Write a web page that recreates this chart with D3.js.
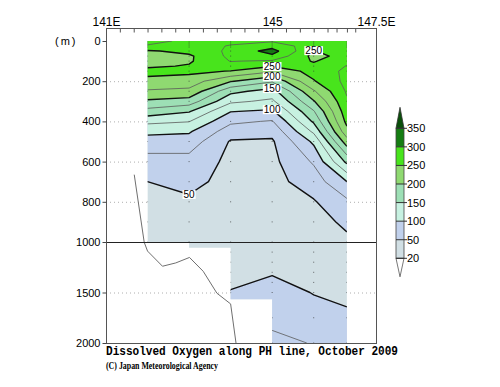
<!DOCTYPE html>
<html>
<head>
<meta charset="utf-8">
<script src="https://cdn.jsdelivr.net/npm/d3@7"></script>
<style>
body { margin: 0; background: #fff; }
svg { display: block; }
</style>
</head>
<body>
<svg id="chart" width="500" height="387"></svg>
<script>
// stations along the PH line (deg E) and sample depths (m)
var stations = [142, 143, 144, 145, 146, 146.8]
var depths = [0, 25, 50, 75, 100, 125, 150, 200, 250, 300, 350, 400, 450, 500, 600, 700, 800, 900, 1000, 1250, 1500, 1750, 2000]
var bottomDepth = [1000, 1057, 1567, 2000, 2000, 2000]

// dissolved oxygen (umol/kg) at each depth, one list per station
var oxy142 = [285, 272, 247, 238, 237, 246, 258, 243, 222, 196, 166, 131, 107, 88, 66, 50, 44, 39, 35, 34, 33, 33, 33]
var oxy143 = [268, 262, 257, 246, 247, 252, 256, 238, 219, 189, 152, 126, 103, 88, 66, 57, 46, 41, 38, 36, 35, 35, 35]
var oxy144 = [268, 277, 280, 281, 276, 265, 249, 202, 157, 130, 101, 80, 62, 48, 44, 42, 40, 38, 37, 42, 51, 55, 58]
var oxy145 = [272, 290, 310, 295, 272, 252, 229, 178, 140, 120, 96, 73, 57, 47, 44, 42, 40, 39, 38, 45, 60, 70, 80]
var oxy146 = [268, 262, 249, 243, 248, 256, 260, 248, 222, 198, 173, 154, 130, 105, 78, 62, 48, 44, 42, 42, 49, 60, 74]
var oxy1468 = [265, 262, 260, 258, 268, 276, 280, 282, 278, 272, 265, 257, 242, 214, 156, 100, 70, 53, 47, 40, 46, 53, 65]
var profiles = [oxy142, oxy143, oxy144, oxy145, oxy146, oxy1468]

// bottom topography (deg E, m)
var topoLon = [141.68, 141.92, 142.0, 142.36, 142.68, 143.01, 143.34, 143.67, 144.0, 144.13]
var topoDepth = [665, 1003, 1090, 1240, 1207, 1153, 1290, 1507, 1613, 2000]

var fillLevels = [20, 50, 100, 150, 200, 250, 300, 350]
var fillColors = ["#d1dfe4", "#c1d1ec", "#c7f1e1", "#9ddfb5", "#8fd971", "#48e41c", "#157d12", "#0a4f0a"]
var thickLevels = [50, 100, 150, 200, 250, 300]
var thinLevels = [75, 125, 175, 225, 275]

var yTicks = [0, 200, 400, 600, 800, 1000, 1500, 2000]
var gridDepths = [200, 400, 600, 800, 1500]
var lonMinor = [141, 141.333, 141.667, 142, 142.333, 142.667, 143, 143.333, 143.667, 144, 144.333, 144.667,
    145, 145.333, 145.667, 146, 146.333, 146.55, 146.8, 147]
var lonLabels = [141, 145, 147.5]
var sampleDepths = [0, 10, 20, 30, 50, 75, 100, 125, 150, 200, 250, 300, 400, 500, 600, 700, 800, 900, 1000, 1100, 1200, 1300, 1400, 1500, 1750, 2000]

var contourLabels = [
    { st: 3, level: 250 }, { st: 3, level: 200 }, { st: 3, level: 150 },
    { st: 3, level: 100 }, { st: 1, level: 50 }, { st: 4, level: 250 }
]

var svg = d3.select("#chart")
var font = "'Liberation Sans', Arial, sans-serif"

var x = d3.scaleLinear().domain([141, 147.5]).range([106, 376])
var y = d3.scaleLinear().domain([0, 1000, 2000]).range([41, 242, 343])
var frameTop = 28

var n = stations.length
var m = depths.length
var xIdx = d3.scaleLinear().domain(d3.range(n)).range(stations)
var yIdx = d3.scaleLinear().domain(d3.range(m)).range(depths)

function clampIdx(c, k) {
    return Math.max(0, Math.min(k - 1, c - 0.5))
}
function px(c) { return x(xIdx(clampIdx(c, n))) }
function py(c) { return y(yIdx(clampIdx(c, m))) }

var values = []
depths.forEach(function(d, j) {
    stations.forEach(function(s, i) {
        values[j * n + i] = profiles[i][j]
    })
})

// data mask: stepped bottom between stations
var maskPts = [[x(stations[0]), y(0)], [x(stations[n - 1]), y(0)]]
for (var i = n - 2; i >= 0; i--) {
    var segD = Math.min(bottomDepth[i], bottomDepth[i + 1])
    maskPts.push([x(stations[i + 1]), y(segD)])
    maskPts.push([x(stations[i]), y(segD)])
}

var defs = svg.append("defs")
defs.append("clipPath").attr("id", "dataClip")
    .append("path").attr("d", d3.line()(maskPts) + "Z")
defs.append("clipPath").attr("id", "frameClip")
    .append("rect").attr("x", 106).attr("y", frameTop).attr("width", 270).attr("height", 343 - frameTop)

// grid lines (dotted)
svg.append("g").selectAll("line").data(gridDepths).enter().append("line")
    .attr("x1", 106).attr("x2", 376)
    .attr("y1", function(d) { return y(d) + 0.5 }).attr("y2", function(d) { return y(d) + 0.5 })
    .attr("stroke", "#9a9a9a").attr("stroke-width", 0.8).attr("stroke-dasharray", "1,3")

var transform = d3.geoTransform({
    point: function(a, b) { this.stream.point(px(a), py(b)) }
})
var geoPath = d3.geoPath(transform)

var fills = d3.contours().size([n, m]).thresholds(fillLevels)(values)
var plot = svg.append("g").attr("clip-path", "url(#dataClip)")
plot.selectAll("path.fill").data(fills).enter().append("path")
    .attr("class", "fill")
    .attr("d", geoPath)
    .attr("fill", function(d, i) { return fillColors[i] })
    .attr("stroke", function(d, i) { return fillColors[i] })
    .attr("stroke-width", 0.3)

function onEdge(a, b) {
    var ax = clampIdx(a[0], n), bx = clampIdx(b[0], n)
    var ay = clampIdx(a[1], m), by = clampIdx(b[1], m)
    return (ax === 0 && bx === 0) || (ax === n - 1 && bx === n - 1) ||
        (ay === 0 && by === 0) || (ay === m - 1 && by === m - 1)
}

function linePath(geom) {
    var p = d3.path()
    geom.coordinates.forEach(function(poly) {
        poly.forEach(function(ring) {
            var pen = false
            for (var k = 1; k < ring.length; k++) {
                var a = ring[k - 1], b = ring[k]
                if (onEdge(a, b)) { pen = false; continue }
                if (!pen) p.moveTo(px(a[0]), py(a[1]))
                p.lineTo(px(b[0]), py(b[1]))
                pen = true
            }
        })
    })
    return p.toString()
}

var thin = d3.contours().size([n, m]).thresholds(thinLevels)(values)
plot.selectAll("path.thin").data(thin).enter().append("path")
    .attr("class", "thin")
    .attr("d", linePath)
    .attr("fill", "none").attr("stroke", "#5a5a5a").attr("stroke-width", 0.8)
    .attr("stroke-linejoin", "round")

var thick = d3.contours().size([n, m]).thresholds(thickLevels)(values)
plot.selectAll("path.thick").data(thick).enter().append("path")
    .attr("class", "thick")
    .attr("d", linePath)
    .attr("fill", "none").attr("stroke", "#111").attr("stroke-width", 1.4)
    .attr("stroke-linejoin", "round")

// station sample points
var dots = []
stations.forEach(function(s, i) {
    sampleDepths.forEach(function(d) {
        if (d <= bottomDepth[i]) dots.push([s, d])
    })
})
plot.selectAll("rect.dot").data(dots).enter().append("rect")
    .attr("class", "dot")
    .attr("x", function(d) { return x(d[0]) - 0.5 })
    .attr("y", function(d) { return y(d[1]) - 0.5 })
    .attr("width", 1).attr("height", 1)
    .attr("fill", "#333").attr("opacity", 0.7)

// contour labels
function crossDepth(prof, level) {
    for (var j = 0; j < prof.length - 1; j++) {
        var a = prof[j] - level, b = prof[j + 1] - level
        if (a * b <= 0 && prof[j] !== prof[j + 1]) {
            return depths[j] + (depths[j + 1] - depths[j]) * a / (a - b)
        }
    }
    return null
}
var lab = svg.append("g")
contourLabels.forEach(function(c) {
    var cx = x(stations[c.st])
    var cy = y(crossDepth(profiles[c.st], c.level))
    var t = lab.append("text").attr("x", cx).attr("y", cy + 3.5)
        .attr("text-anchor", "middle")
        .attr("font-family", font).attr("font-size", 10)
        .text(c.level)
    var w = t.node().getComputedTextLength()
    lab.insert("rect", "text").attr("x", cx - w / 2 - 1).attr("y", cy - 4.5)
        .attr("width", w + 2).attr("height", 9).attr("fill", "#fff")
})

// bottom topography
svg.append("path")
    .datum(d3.zip(topoLon, topoDepth))
    .attr("clip-path", "url(#frameClip)")
    .attr("d", d3.line().x(function(d) { return x(d[0]) }).y(function(d) { return y(d[1]) }))
    .attr("fill", "none").attr("stroke", "#6f6f6f").attr("stroke-width", 1)

// 1000 m separator
svg.append("line").attr("x1", 106).attr("x2", 376)
    .attr("y1", y(1000) + 0.5).attr("y2", y(1000) + 0.5)
    .attr("stroke", "#222").attr("stroke-width", 1.2)

// frame
svg.append("rect").attr("x", 106.5).attr("y", frameTop + 0.5)
    .attr("width", 270).attr("height", 343 - frameTop)
    .attr("fill", "none").attr("stroke", "#555").attr("stroke-width", 1)

// axes
var yAxis = svg.append("g").attr("transform", "translate(106.5,0)")
    .call(d3.axisLeft(y).tickValues(yTicks).tickSize(4).tickPadding(2).tickFormat(d3.format("d")))
yAxis.select(".domain").remove()
yAxis.selectAll("line").attr("stroke", "#444")
yAxis.selectAll("text").attr("font-family", font).attr("font-size", 11).attr("fill", "#000")

var xMinor = svg.append("g").attr("transform", "translate(0," + (frameTop + 0.5) + ")")
    .call(d3.axisTop(x).tickValues(lonMinor).tickSize(-4).tickFormat(""))
xMinor.select(".domain").remove()
xMinor.selectAll("line").attr("stroke", "#555")

var xLab = svg.append("g").attr("transform", "translate(0," + frameTop + ")")
    .call(d3.axisTop(x).tickValues(lonLabels).tickSize(0).tickPadding(2)
        .tickFormat(function(d) { return d === 145 ? "145" : d + "E" }))
xLab.select(".domain").remove()
xLab.selectAll("text").attr("font-family", font).attr("font-size", 12).attr("fill", "#000")

svg.append("text").attr("x", 55).attr("y", 45)
    .attr("font-family", font).attr("font-size", 11).attr("letter-spacing", 2)
    .text("(m)")

// colour bar
var legY = d3.scalePoint().domain(fillLevels).range([258.3, 128.3])
var lx = 396, lw = 8
var leg = svg.append("g")
fillLevels.slice(0, -1).forEach(function(v, i) {
    leg.append("rect").attr("x", lx).attr("y", legY(fillLevels[i + 1]))
        .attr("width", lw).attr("height", legY(v) - legY(fillLevels[i + 1]))
        .attr("fill", fillColors[i])
})
leg.append("path")
    .attr("d", "M" + lx + "," + legY(350) + "L" + (lx + lw / 2) + "," + (legY(350) - 21) + "L" + (lx + lw) + "," + legY(350) + "Z")
    .attr("fill", fillColors[7]).attr("stroke", "#333").attr("stroke-width", 0.8)
leg.append("path")
    .attr("d", "M" + lx + "," + legY(20) + "L" + (lx + lw / 2) + "," + (legY(20) + 18.5) + "L" + (lx + lw) + "," + legY(20) + "Z")
    .attr("fill", "#fff").attr("stroke", "#555").attr("stroke-width", 0.8)
leg.append("rect").attr("x", lx).attr("y", legY(350)).attr("width", lw).attr("height", legY(20) - legY(350))
    .attr("fill", "none").attr("stroke", "#444").attr("stroke-width", 0.8)
leg.selectAll("line").data(fillLevels).enter().append("line")
    .attr("x1", lx).attr("x2", lx + lw + 3)
    .attr("y1", function(d) { return legY(d) }).attr("y2", function(d) { return legY(d) })
    .attr("stroke", "#333").attr("stroke-width", 1)
leg.selectAll("text").data(fillLevels).enter().append("text")
    .attr("x", lx + lw + 3).attr("y", function(d) { return legY(d) + 4 })
    .attr("font-family", font).attr("font-size", 11)
    .text(function(d) { return d })

// titles
svg.append("text").attr("x", 106).attr("y", 355)
    .attr("font-family", "'Liberation Mono', 'Courier New', monospace").attr("font-size", 12).attr("font-weight", "bold")
    .attr("textLength", 292).attr("lengthAdjust", "spacingAndGlyphs")
    .text("Dissolved Oxygen along PH line, October 2009")
svg.append("text").attr("x", 106).attr("y", 369)
    .attr("font-family", "'Liberation Serif', serif").attr("font-size", 11).attr("font-weight", "bold")
    .attr("textLength", 112).attr("lengthAdjust", "spacingAndGlyphs")
    .text("(C) Japan Meteorological Agency")
</script>
</body>
</html>
